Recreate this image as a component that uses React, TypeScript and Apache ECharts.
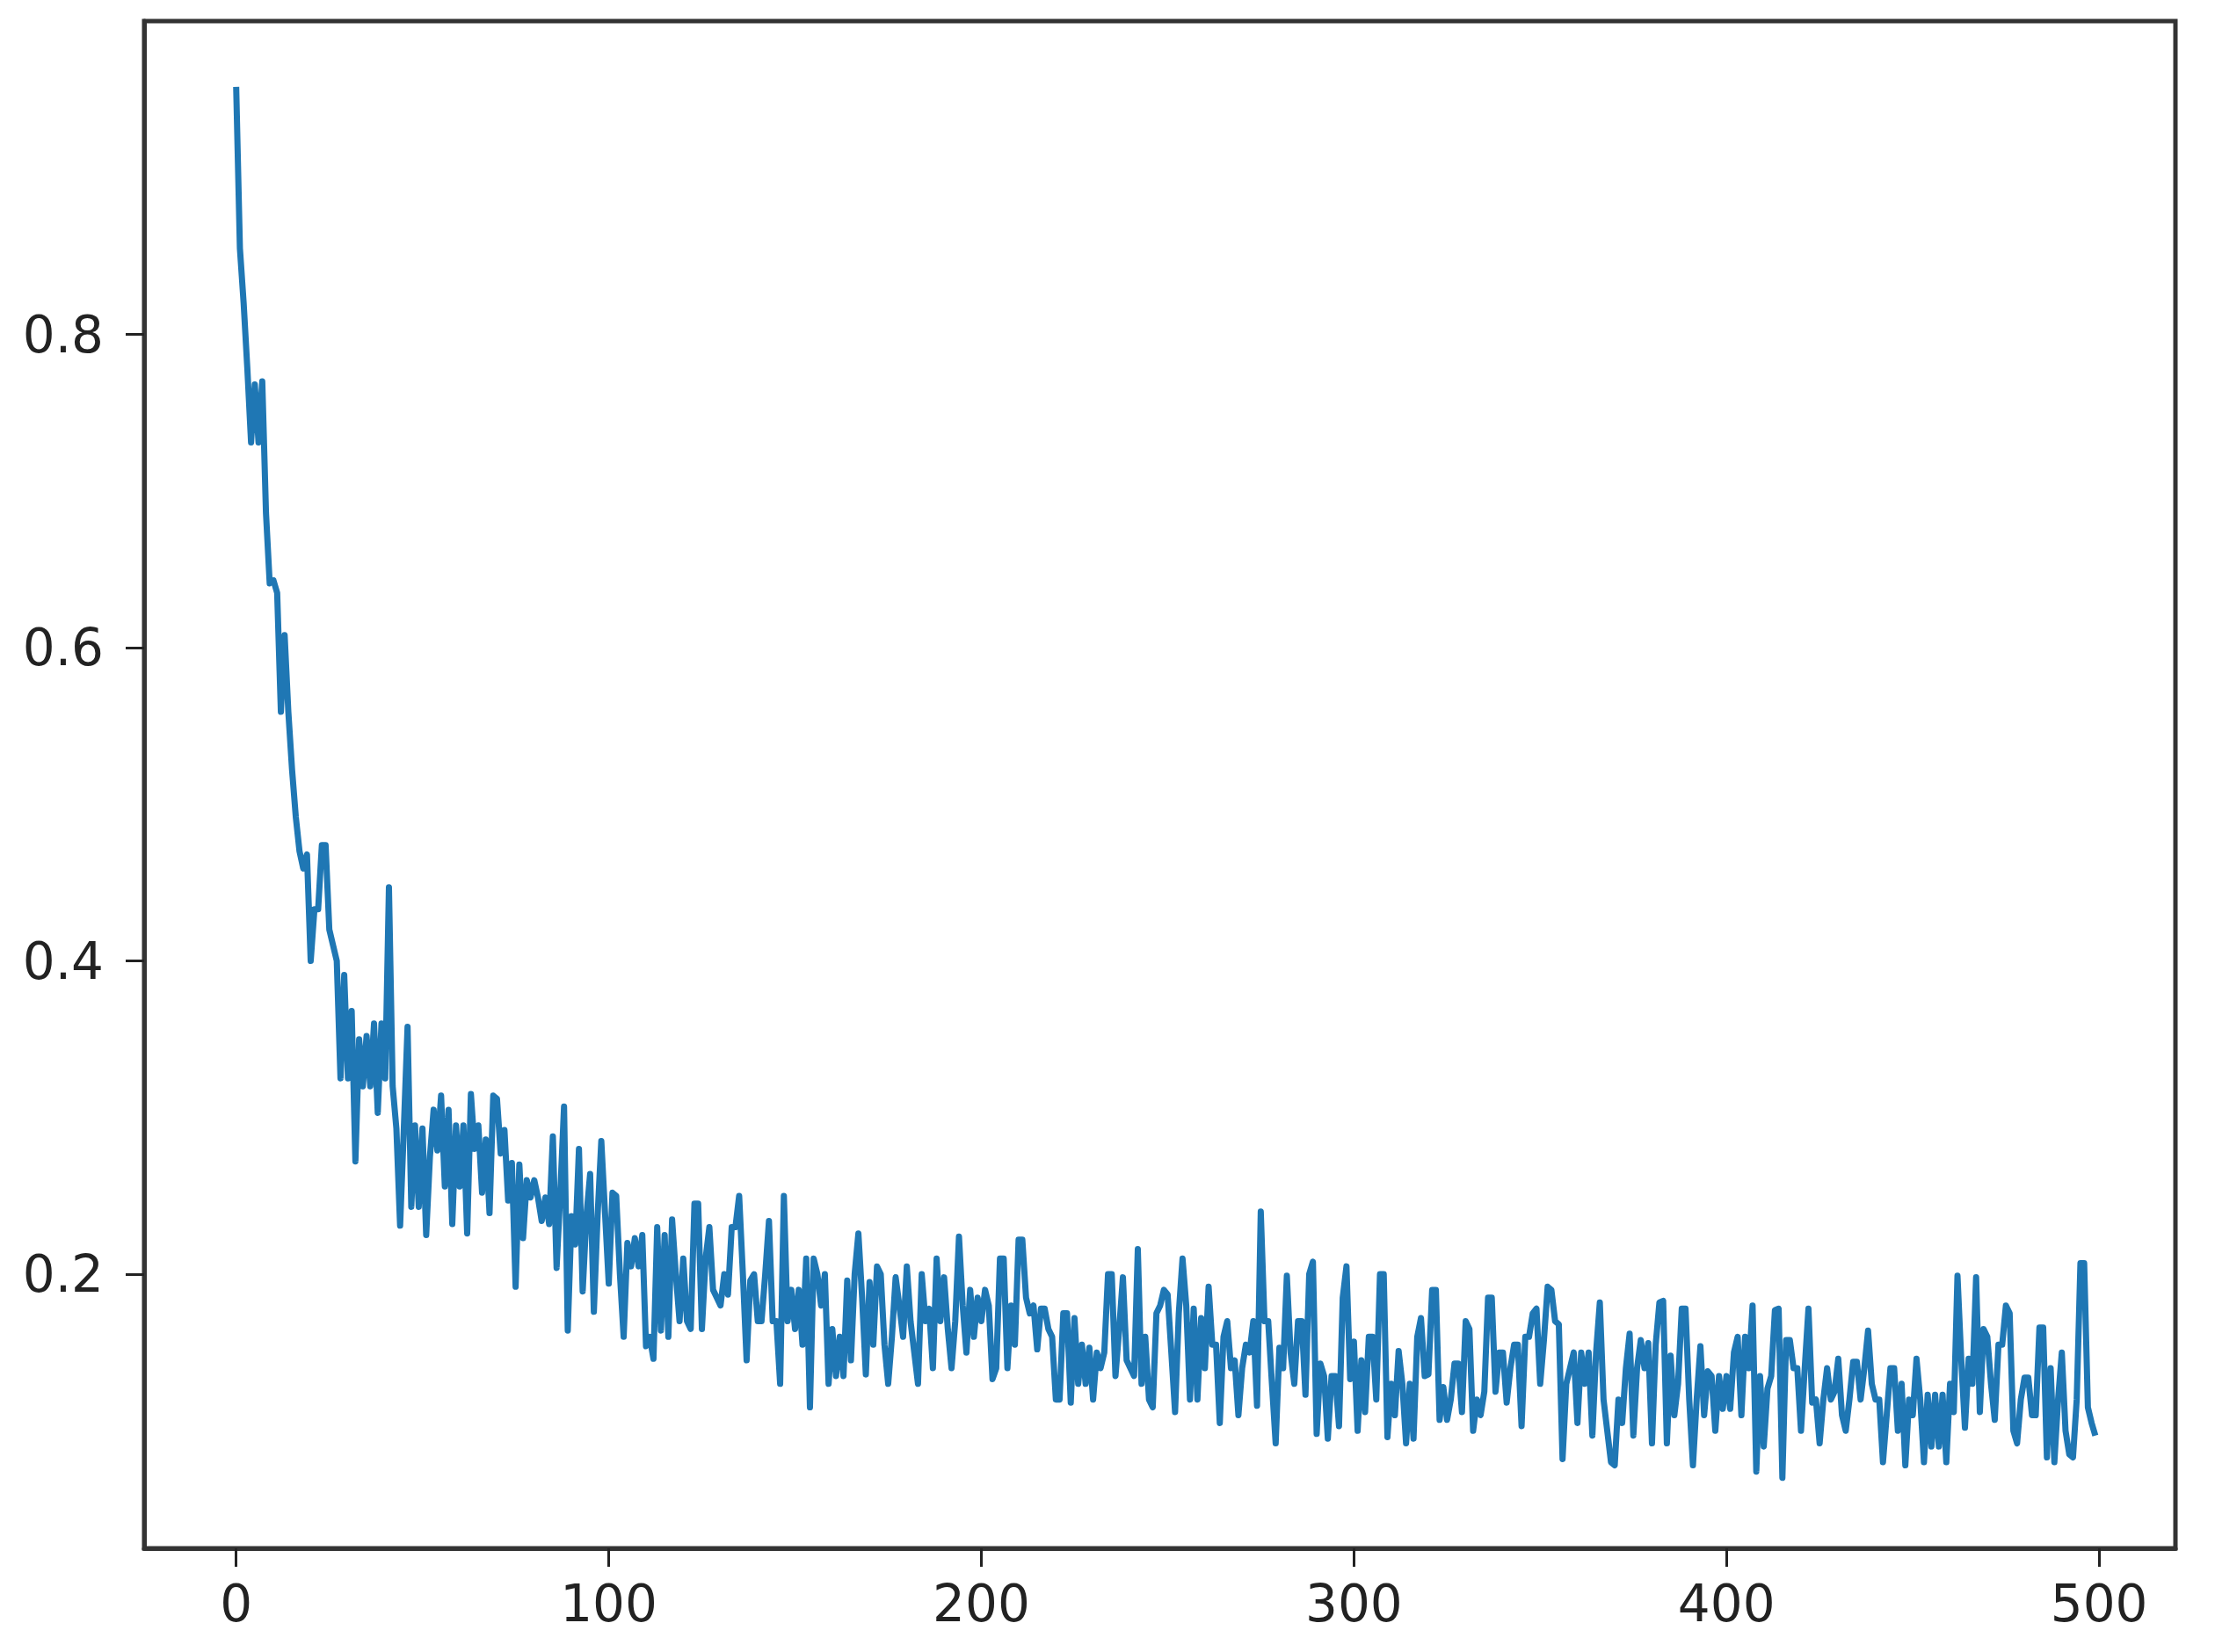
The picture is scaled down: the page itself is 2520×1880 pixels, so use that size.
import React, { useEffect, useRef } from "react";
import * as echarts from "echarts";

// Loss-like values, indices 0..499
const values0to99 = [
  0.958, 0.855, 0.82, 0.778, 0.731, 0.768, 0.731, 0.77, 0.686, 0.641,
  0.643, 0.635, 0.559, 0.608, 0.559, 0.522, 0.492, 0.47, 0.459, 0.468,
  0.4, 0.433, 0.433, 0.474, 0.474, 0.42, 0.41, 0.4, 0.325, 0.391,
  0.325, 0.368, 0.272, 0.35, 0.32, 0.352, 0.32, 0.36, 0.303, 0.36,
  0.325, 0.447, 0.32, 0.293, 0.231, 0.293, 0.358, 0.243, 0.295, 0.243,
  0.293, 0.225, 0.275, 0.305, 0.279, 0.314, 0.256, 0.305, 0.232, 0.295,
  0.256, 0.295, 0.226, 0.315, 0.28, 0.295, 0.252, 0.286, 0.239, 0.314,
  0.312, 0.277, 0.292, 0.247, 0.271, 0.192, 0.27, 0.223, 0.26, 0.249,
  0.26, 0.249, 0.234, 0.249, 0.232, 0.288, 0.204, 0.252, 0.307, 0.164,
  0.237, 0.219, 0.28, 0.189, 0.237, 0.264, 0.176, 0.237, 0.285, 0.239,
];
const values100to199 = [
  0.194, 0.252, 0.25, 0.2, 0.16, 0.22, 0.205, 0.223, 0.205, 0.225,
  0.154, 0.16, 0.146, 0.23, 0.164, 0.225, 0.16, 0.235, 0.2, 0.17,
  0.21, 0.17, 0.165, 0.245, 0.245, 0.165, 0.21, 0.23, 0.19, 0.185,
  0.18, 0.2, 0.187, 0.23, 0.23, 0.25, 0.2, 0.145, 0.196, 0.2,
  0.17, 0.17, 0.2, 0.234, 0.17, 0.17, 0.13, 0.25, 0.17, 0.19,
  0.165, 0.19, 0.155, 0.21, 0.115, 0.21, 0.2, 0.18, 0.2, 0.13,
  0.165, 0.135, 0.16, 0.135, 0.196, 0.145, 0.2, 0.226, 0.185, 0.136,
  0.195, 0.155, 0.205, 0.2, 0.155, 0.13, 0.16, 0.198, 0.18, 0.16,
  0.205, 0.17, 0.15, 0.13, 0.2, 0.17, 0.178, 0.14, 0.21, 0.17,
  0.198, 0.165, 0.14, 0.17, 0.224, 0.18, 0.15, 0.19, 0.16, 0.185,
];
const values200to299 = [
  0.17, 0.19, 0.18, 0.133, 0.14, 0.21, 0.21, 0.14, 0.18, 0.155,
  0.222, 0.222, 0.185, 0.175, 0.18, 0.152, 0.178, 0.178, 0.165, 0.16,
  0.12, 0.12, 0.175, 0.175, 0.118, 0.172, 0.13, 0.155, 0.13, 0.153,
  0.12, 0.15, 0.14, 0.15, 0.2, 0.2, 0.135, 0.165, 0.198, 0.145,
  0.14, 0.135, 0.216, 0.13, 0.16, 0.12, 0.115, 0.175, 0.18, 0.19,
  0.187, 0.15, 0.112, 0.175, 0.21, 0.18, 0.12, 0.178, 0.12, 0.172,
  0.14, 0.192, 0.155, 0.155, 0.105, 0.16, 0.17, 0.14, 0.145, 0.11,
  0.14, 0.155, 0.15, 0.17, 0.116, 0.24, 0.17, 0.17, 0.13, 0.092,
  0.153, 0.14, 0.199, 0.15, 0.13, 0.17, 0.17, 0.123, 0.2, 0.208,
  0.098, 0.143, 0.135, 0.095, 0.135, 0.135, 0.103, 0.185, 0.205, 0.133,
];
const values300to399 = [
  0.157, 0.1, 0.145, 0.112, 0.16, 0.16, 0.12, 0.2, 0.2, 0.096,
  0.13, 0.11, 0.151, 0.13, 0.092, 0.13, 0.095, 0.16, 0.172, 0.135,
  0.136, 0.19, 0.19, 0.107, 0.128, 0.107, 0.12, 0.143, 0.143, 0.112,
  0.17, 0.165, 0.1, 0.12, 0.11, 0.125, 0.185, 0.185, 0.125, 0.15,
  0.15, 0.118, 0.14, 0.155, 0.155, 0.103, 0.16, 0.16, 0.175, 0.178,
  0.13, 0.158, 0.192, 0.19, 0.17, 0.168, 0.082, 0.13, 0.14, 0.15,
  0.105, 0.15, 0.13, 0.15, 0.097, 0.15, 0.182, 0.12, 0.1, 0.08,
  0.078, 0.12, 0.105, 0.14, 0.162, 0.097, 0.14, 0.158, 0.14, 0.156,
  0.092, 0.155, 0.182, 0.183, 0.092, 0.148, 0.11, 0.13, 0.178, 0.178,
  0.12, 0.078, 0.12, 0.154, 0.11, 0.138, 0.135, 0.1, 0.135, 0.114,
];
const values400to499 = [
  0.135, 0.114, 0.15, 0.16, 0.11, 0.16, 0.14, 0.18, 0.074, 0.135,
  0.09, 0.127, 0.135, 0.177, 0.178, 0.07, 0.158, 0.158, 0.14, 0.14,
  0.1, 0.14, 0.178, 0.118, 0.12, 0.092, 0.12, 0.14, 0.12, 0.125,
  0.146, 0.11, 0.1, 0.12, 0.144, 0.144, 0.12, 0.14, 0.164, 0.13,
  0.12, 0.12, 0.08, 0.11, 0.14, 0.14, 0.1, 0.13, 0.078, 0.12,
  0.11, 0.146, 0.12, 0.08, 0.123, 0.09, 0.123, 0.09, 0.123, 0.08,
  0.13, 0.112, 0.199, 0.146, 0.102, 0.146, 0.13, 0.198, 0.112, 0.165,
  0.16, 0.13, 0.107, 0.155, 0.155, 0.18, 0.175, 0.1, 0.092, 0.12,
  0.134, 0.134, 0.11, 0.11, 0.166, 0.166, 0.083, 0.14, 0.08, 0.12,
  0.15, 0.1, 0.085, 0.083, 0.12, 0.207, 0.207, 0.115, 0.105, 0.097,
];

const xTicks = [0, 100, 200, 300, 400, 500];
const yTicks = [0.2, 0.4, 0.6, 0.8];

const allValues = [
  ...values0to99,
  ...values100to199,
  ...values200to299,
  ...values300to399,
  ...values400to499,
];

export default function App() {
  const ref = useRef<HTMLDivElement | null>(null);

  useEffect(() => {
    if (!ref.current) return;
    const chart = echarts.init(ref.current, undefined, { renderer: "svg" });
    const data = allValues.map((v, i) => [i, v]);
    const labelStyle = {
      color: "#222",
      fontFamily: "DejaVu Sans",
      fontSize: 58,
    };
    const spine = { color: "#333", width: 5 };
    chart.setOption({
      animation: false,
      backgroundColor: "#ffffff",
      grid: {
        left: 164,
        right: 45,
        top: 24,
        bottom: 118,
        show: true,
        borderColor: "#333",
        borderWidth: 5,
        backgroundColor: "transparent",
        containLabel: false,
      },
      xAxis: {
        type: "value",
        min: -24.7,
        max: 520.5,
        axisLine: { show: true, onZero: false, lineStyle: spine },
        splitLine: { show: false },
        axisTick: {
          show: true,
          customValues: xTicks,
          length: 21,
          inside: false,
          lineStyle: { color: "#222", width: 3 },
        },
        axisLabel: {
          ...labelStyle,
          customValues: xTicks,
          margin: 34,
          formatter: (v: number) => String(v),
        },
      },
      yAxis: {
        type: "value",
        min: 0.025,
        max: 1.0,
        axisLine: { show: true, onZero: false, lineStyle: spine },
        splitLine: { show: false },
        axisTick: {
          show: true,
          customValues: yTicks,
          length: 21,
          inside: false,
          lineStyle: { color: "#222", width: 3 },
        },
        axisLabel: {
          ...labelStyle,
          customValues: yTicks,
          margin: 46,
          formatter: (v: number) => v.toFixed(1),
        },
      },
      series: [
        {
          type: "line",
          data,
          showSymbol: false,
          symbol: "none",
          lineStyle: { color: "#1f77b4", width: 7, join: "round" },
          emphasis: { disabled: true },
        },
      ],
    });
    return () => chart.dispose();
  }, []);

  return (
    <div
      ref={ref}
      style={{ position: "fixed", left: 0, top: 0, width: 2520, height: 1880 }}
    />
  );
}
